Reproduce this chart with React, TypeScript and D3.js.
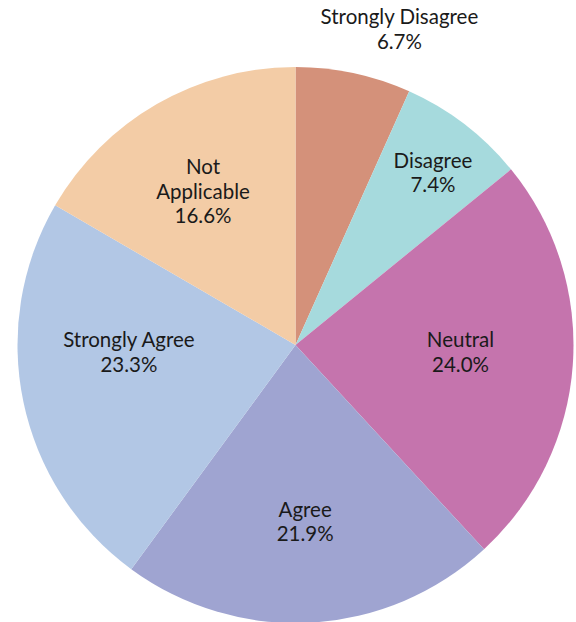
import React, { useEffect, useRef } from "react";
import * as d3 from "d3";

const categories = ["Strongly Disagree", "Disagree", "Neutral", "Agree", "Strongly Agree", "Not Applicable"];
const shares = [6.7, 7.4, 24.0, 21.9, 23.3, 16.6];
const labelLines = [["Strongly Disagree"], ["Disagree"], ["Neutral"], ["Agree"], ["Strongly Agree"], ["Not", "Applicable"]];
const colors = ["#d4917a", "#a6dadd", "#c574ad", "#9fa4d1", "#b2c7e5", "#f3cca6"];
const outsideLabels = ["Strongly Disagree"];

const W = 576;
const H = 622;

export default function App() {
    const ref = useRef<SVGSVGElement>(null);

    useEffect(() => {
        const svg = d3.select(ref.current);
        svg.selectAll("*").remove();

        const cx = 295.5;
        const cy = 345;
        const R = 278;
        const fontSize = 20.5;
        const lineH = 24.5;

        const pie = d3.pie<number>().sort(null).value(d => d);
        const arcs = pie(shares);
        const arc = d3.arc<d3.PieArcDatum<number>>().innerRadius(0).outerRadius(R);

        const g = svg.append("g").attr("transform", `translate(${cx},${cy})`);

        g.selectAll("path")
            .data(arcs)
            .enter()
            .append("path")
            .attr("d", arc)
            .attr("fill", (d, i) => colors[i])
            .attr("stroke", "none");

        const labels = g.selectAll("g.lbl")
            .data(arcs)
            .enter()
            .append("g")
            .attr("class", "lbl");

        labels.each(function (d, i) {
            const lines = [...labelLines[i], shares[i].toFixed(1) + "%"];
            const n = lines.length;
            const t = d3.select(this).append("text")
                .attr("text-anchor", "middle")
                .attr("font-family", "Lato, 'Open Sans', sans-serif")
                .attr("font-size", fontSize)
                .attr("fill", "#1a1a1a");
            lines.forEach((s, k) => {
                t.append("tspan").attr("x", 0).attr("y", (k - (n - 1) / 2) * lineH).text(s);
            });

            if (outsideLabels.includes(categories[i])) {
                const mid = (d.startAngle + d.endAngle) / 2;
                const ex = Math.sin(mid) * R;
                const ey = -Math.cos(mid) * R;
                const w = (t.node() as SVGTextElement).getBBox().width;
                const lastBase = ey - 24.5;
                d3.select(this).attr("transform", `translate(${ex + w * 0.29},${lastBase - (n - 1) / 2 * lineH})`);
                return;
            }

            // inside placement: text centred on the wedge's inscribed circle,
            // or on the horizontal axis when the slice straddles it
            const half = (d.endAngle - d.startAngle) / 2;
            const rIns = Math.min(Math.sin(half) / (1 + Math.sin(half)), 0.5);
            const rc = (1 - rIns) * R;
            let ang = (d.startAngle + d.endAngle) / 2;
            for (const a of [Math.PI / 2, Math.PI * 1.5]) {
                if (d.startAngle < a && a < d.endAngle) ang = a;
            }
            const x = Math.sin(ang) * rc;
            const y = -Math.cos(ang) * rc + 14.5;
            d3.select(this).attr("transform", `translate(${x},${y})`);
        });
    }, []);

    return (
        <div style={{ position: "absolute", left: 0, top: 0 }}>
            <svg ref={ref} width={W} height={H} style={{ display: "block" }}></svg>
        </div>
    );
}
